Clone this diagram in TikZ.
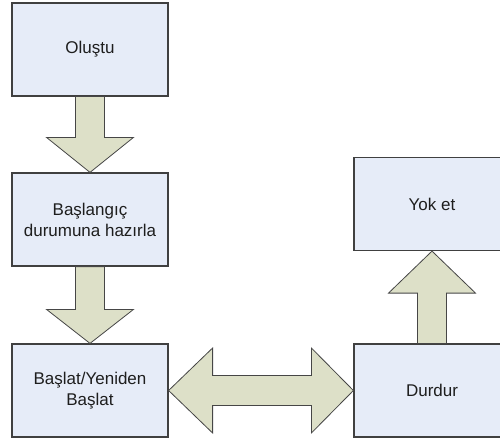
\documentclass[tikz,border=0pt]{standalone}
\usepackage{fontspec}
\setmainfont{Liberation Sans}
\usetikzlibrary{calc}
\definecolor{boxfill}{RGB}{230,236,248}
\definecolor{boxline}{RGB}{64,64,64}
\definecolor{arrowfill}{RGB}{221,224,200}
\definecolor{arrowline}{RGB}{70,70,70}
\definecolor{txt}{RGB}{30,30,30}
\tikzset{
  state/.style={draw=boxline, line width=1.2pt, fill=boxfill, minimum width=156pt,
    minimum height=93pt, inner sep=0pt, align=center, text=txt,
    font=\fontsize{17pt}{21pt}\selectfont},
  blockarrow/.style={draw=arrowline, line width=0.8pt, fill=arrowfill, line join=miter}
}
\begin{document}
\begin{tikzpicture}[x=1pt, y=-1pt]
  \useasboundingbox (0,0) rectangle (500,441);
  \clip (0,0) rectangle (500,441);

  % state boxes
  \node[state] (created) at (90,49.5) {Oluştu};
  \node[state] (init)    at (90,219.5) {Başlangıç\\durumuna hazırla};
  \node[state] (start)   at (90,390.5) {Başlat/Yeniden\\Başlat};
  \node[state] (stop)    at (432,390.5) {Durdur};
  \node[state] (destroy) at (432,204) {Yok et};

  % down arrow: created -> init
  \draw[blockarrow]
    ($(created.south)+(-14.5,0)$) -- ($(created.south)+(14.5,0)$)
    -- ($(init.north)+(14.5,-35)$) -- ($(init.north)+(43.5,-35)$)
    -- (init.north)
    -- ($(init.north)+(-43.5,-35)$) -- ($(init.north)+(-14.5,-35)$) -- cycle;

  % down arrow: init -> start
  \draw[blockarrow]
    ($(init.south)+(-14.5,0)$) -- ($(init.south)+(14.5,0)$)
    -- ($(start.north)+(14.5,-34)$) -- ($(start.north)+(43.5,-34)$)
    -- (start.north)
    -- ($(start.north)+(-43.5,-34)$) -- ($(start.north)+(-14.5,-34)$) -- cycle;

  % up arrow: stop -> destroy
  \draw[blockarrow]
    ($(stop.north)+(-14.5,0)$) -- ($(stop.north)+(14.5,0)$)
    -- ($(destroy.south)+(14.5,42)$) -- ($(destroy.south)+(43.5,42)$)
    -- (destroy.south)
    -- ($(destroy.south)+(-43.5,42)$) -- ($(destroy.south)+(-14.5,42)$) -- cycle;

  % double arrow: start <-> stop
  \draw[blockarrow]
    (start.east)
    -- ($(start.east)+(44,-42.5)$) -- ($(start.east)+(44,-15)$)
    -- ($(stop.west)+(-42,-15)$) -- ($(stop.west)+(-42,-42.5)$)
    -- (stop.west)
    -- ($(stop.west)+(-42,42.5)$) -- ($(stop.west)+(-42,15)$)
    -- ($(start.east)+(44,15)$) -- ($(start.east)+(44,42.5)$) -- cycle;
\end{tikzpicture}
\end{document}
